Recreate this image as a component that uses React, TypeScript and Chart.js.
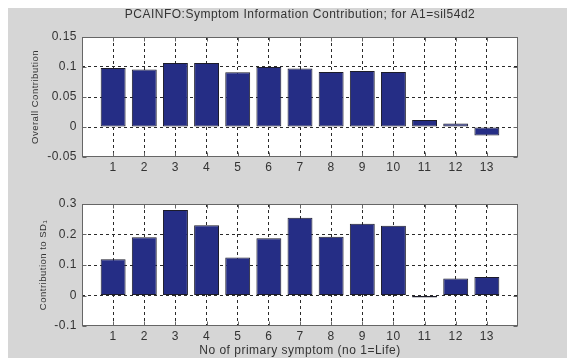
import React, { useEffect, useRef } from 'react';
import { Chart, registerables } from 'chart.js';

Chart.register(...registerables);

// ---------- data ----------
const symptoms = [1, 2, 3, 4, 5, 6, 7, 8, 9, 10, 11, 12, 13];
const overallContribution = [0.0985, 0.0957, 0.1066, 0.1066, 0.0912, 0.1, 0.0975, 0.0915, 0.0935, 0.0915, 0.0118, 0.0058, -0.0143];
const sd1Contribution = [0.119, 0.191, 0.28, 0.23, 0.125, 0.188, 0.255, 0.193, 0.235, 0.229, -0.002, 0.056, 0.061];
const overallTicks = [-0.05, 0, 0.05, 0.1, 0.15];
const overallTickLabels = ['-0.05', '0', '0.05', '0.1', '0.15'];
const sd1Ticks = [-0.1, 0, 0.1, 0.2, 0.3];
const sd1TickLabels = ['-0.1', '0', '0.1', '0.2', '0.3'];
const xRange = [0, 14];
const titleText = 'PCAINFO:Symptom Information Contribution; for A1=sil54d2';
const overallLabel = 'Overall Contribution';
const sd1Label = 'Contribution to SD\u2081';
const xLabel = 'No of primary symptom (no 1=Life)';

// ---------- styles ----------
const FONT = '"Liberation Sans", Arial, Helvetica, sans-serif';
const FIG_BG = '#d6d6d6';
const BAR_FILL = 'rgb(37,45,133)';
const BAR_EDGE = '#1c1c2a';
const BOX = '#666666';
const GRID = '#2a2a2a';
const TEXT = '#333333';
const W = 559;
const H = 175;

const matlabFrame = {
  id: 'matlabFrame',
  beforeUpdate(chart: any) {
    chart.ctx.letterSpacing = '0.5px';
  },
  beforeDraw(chart: any) {
    const { ctx, chartArea: a } = chart;
    ctx.letterSpacing = '0.5px';
    ctx.save();
    ctx.fillStyle = '#ffffff';
    ctx.fillRect(a.left, a.top, a.right - a.left, a.bottom - a.top);
    ctx.restore();
  },
  afterDraw(chart: any) {
    const { ctx, chartArea: a, scales } = chart;
    const L = Math.round(a.left) + 0.5;
    const R = Math.round(a.right) - 0.5;
    const T = Math.round(a.top) + 0.5;
    const B = Math.round(a.bottom) - 0.5;
    ctx.save();
    ctx.setLineDash([]);
    ctx.strokeStyle = BOX;
    ctx.lineWidth = 1;
    ctx.strokeRect(L, T, R - L, B - T);
    ctx.beginPath();
    scales.x.ticks.forEach((t: any) => {
      const x = Math.round(scales.x.getPixelForValue(t.value)) + 0.5;
      ctx.moveTo(x, B); ctx.lineTo(x, B - 4);
      ctx.moveTo(x, T); ctx.lineTo(x, T + 4);
    });
    scales.y.ticks.forEach((t: any) => {
      const y = Math.round(scales.y.getPixelForValue(t.value)) + 0.5;
      ctx.moveTo(L, y); ctx.lineTo(L + 4, y);
      ctx.moveTo(R, y); ctx.lineTo(R - 4, y);
    });
    ctx.stroke();
    ctx.restore();
  },
};

function makeConfig(opts: {
  values: number[];
  yTicks: number[];
  yTickLabels: string[];
  yTitle: string;
  yTitlePad: number;
  showTitle: boolean;
  showXTitle: boolean;
  padTop: number;
  xHeight: number;
}): any {
  const yMin = opts.yTicks[0];
  const yMax = opts.yTicks[opts.yTicks.length - 1];
  return {
    type: 'bar',
    data: {
      datasets: [
        {
          data: symptoms.map((s, i) => ({ x: s, y: opts.values[i] })),
          backgroundColor: BAR_FILL,
          borderColor: BAR_EDGE,
          borderWidth: 1,
          borderSkipped: false,
          barPercentage: 0.8,
          categoryPercentage: 1,
          minBarLength: 2,
        },
      ],
    },
    options: {
      responsive: false,
      animation: false,
      events: [],
      layout: { padding: { top: opts.padTop, right: 49, bottom: 0, left: 0 } },
      plugins: {
        legend: { display: false },
        tooltip: { enabled: false },
        title: {
          display: opts.showTitle,
          text: titleText,
          fullSize: false,
          color: TEXT,
          font: { family: FONT, size: 12, weight: 'normal', lineHeight: 0.8 },
          padding: { top: 1.6, bottom: 17.8 },
        },
      },
      scales: {
        x: {
          type: 'linear',
          min: xRange[0],
          max: xRange[1],
          offset: false,
          afterBuildTicks: (scale: any) => {
            scale.ticks = symptoms.map((v) => ({ value: v }));
          },
          afterFit: (scale: any) => {
            scale.height = opts.xHeight;
          },
          grid: { offset: false, drawTicks: false, color: GRID, lineWidth: 1 },
          border: { display: false, dash: [3, 3] },
          ticks: {
            autoSkip: false,
            maxRotation: 0,
            padding: 3,
            color: TEXT,
            font: { family: FONT, size: 12 },
            callback: (v: number) => String(v),
          },
          title: {
            display: opts.showXTitle,
            text: xLabel,
            color: TEXT,
            font: { family: FONT, size: 12 },
            padding: { top: 0, bottom: 0 },
          },
        },
        y: {
          type: 'linear',
          min: yMin,
          max: yMax,
          afterBuildTicks: (scale: any) => {
            scale.ticks = opts.yTicks.map((v) => ({ value: v }));
          },
          afterFit: (scale: any) => {
            scale.width = 74;
          },
          grid: {
            drawTicks: false,
            lineWidth: 1,
            color: (c: any) =>
              c.tick && (Math.abs(c.tick.value - yMin) < 1e-9 || Math.abs(c.tick.value - yMax) < 1e-9)
                ? 'rgba(0,0,0,0)'
                : GRID,
          },
          border: { display: false, dash: [3, 3] },
          ticks: {
            padding: 5,
            color: TEXT,
            font: { family: FONT, size: 12 },
            callback: (v: number) => {
              const i = opts.yTicks.findIndex((t) => Math.abs(t - v) < 1e-9);
              return i >= 0 ? opts.yTickLabels[i] : '';
            },
          },
          title: {
            display: true,
            text: opts.yTitle,
            color: TEXT,
            font: { family: FONT, size: 9.5 },
            padding: { top: opts.yTitlePad, bottom: 0 },
          },
        },
      },
    },
    plugins: [matlabFrame],
  };
}

export default function App() {
  const topRef = useRef<HTMLCanvasElement>(null);
  const botRef = useRef<HTMLCanvasElement>(null);

  useEffect(() => {
    document.body.style.overflow = 'hidden';
    const top = new Chart(
      topRef.current as HTMLCanvasElement,
      makeConfig({
        values: overallContribution,
        yTicks: overallTicks,
        yTickLabels: overallTickLabels,
        yTitle: overallLabel,
        yTitlePad: 22,
        showTitle: true,
        showXTitle: false,
        padTop: 0,
        xHeight: 26,
      })
    );
    const bot = new Chart(
      botRef.current as HTMLCanvasElement,
      makeConfig({
        values: sd1Contribution,
        yTicks: sd1Ticks,
        yTickLabels: sd1TickLabels,
        yTitle: sd1Label,
        yTitlePad: 30,
        showTitle: false,
        showXTitle: true,
        padTop: 21,
        xHeight: 32,
      })
    );
    return () => {
      top.destroy();
      bot.destroy();
    };
  }, []);

  return (
    <div
      style={{
        position: 'fixed',
        left: 8,
        top: 8,
        width: W,
        height: 2 * H,
        background: FIG_BG,
        overflow: 'hidden',
      }}
    >
      <canvas ref={topRef} width={W} height={H} style={{ position: 'absolute', left: 0, top: 0, width: W, height: H }} />
      <canvas ref={botRef} width={W} height={H} style={{ position: 'absolute', left: 0, top: H, width: W, height: H }} />
    </div>
  );
}
